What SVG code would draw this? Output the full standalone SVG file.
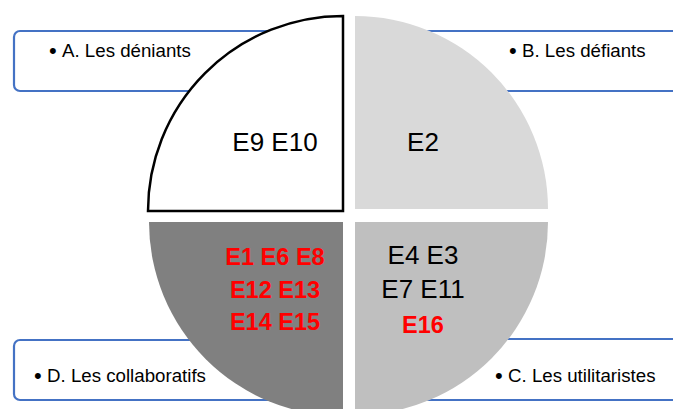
<svg xmlns="http://www.w3.org/2000/svg" width="673" height="409" viewBox="0 0 673 409">
<style>
.box{fill:#ffffff;stroke:#4472c4;stroke-width:2.2}
.lbl{font-family:"Liberation Sans",Arial,sans-serif;font-size:18.7px;fill:#000000}
.bul{font-family:"Liberation Sans",Arial,sans-serif;font-size:22px;fill:#000000}
.num{font-family:"Liberation Sans",Arial,sans-serif;font-size:26px;fill:#000000;text-anchor:middle}
.red{font-family:"Liberation Sans",Arial,sans-serif;font-size:23.5px;font-weight:bold;fill:#ff0000;text-anchor:middle}
</style>
<rect width="673" height="409" fill="#ffffff"/>
<g id="boxA"><rect class="box" x="14" y="31" width="320" height="60" rx="6"/><text class="bul" x="49" y="58">•</text><text class="lbl" x="62" y="57">A. Les déniants</text></g>
<g id="boxB"><rect class="box" x="370" y="31" width="330" height="60" rx="6"/><text class="bul" x="509" y="58">•</text><text class="lbl" x="522" y="57">B. Les défiants</text></g>
<g id="boxD"><rect class="box" x="14" y="340" width="320" height="60" rx="6"/><text class="bul" x="34" y="383">•</text><text class="lbl" x="47" y="382">D. Les collaboratifs</text></g>
<g id="boxC"><rect class="box" x="370" y="339" width="330" height="61" rx="6"/><text class="bul" x="495" y="383">•</text><text class="lbl" x="508" y="382">C. Les utilitaristes</text></g>
<g id="qA"><path d="M343,211 L148,211 A195,195 0 0 1 343,16 Z" fill="#ffffff" stroke="#000000" stroke-width="2.5"/><text class="num" x="275" y="151">E9 E10</text></g>
<g id="qB"><path d="M355,209 L355,16 A193,193 0 0 1 548,209 Z" fill="#d9d9d9"/><text class="num" x="423" y="151">E2</text></g>
<g id="qD"><path d="M343,222 L343,416 A194,194 0 0 1 149,222 Z" fill="#808080"/><text class="red" x="275" y="265">E1 E6 E8</text><text class="red" x="275" y="298">E12 E13</text><text class="red" x="275" y="330">E14 E15</text></g>
<g id="qC"><path d="M355,222 L548,222 A193,193 0 0 1 355,415 Z" fill="#bfbfbf"/><text class="num" x="423" y="264">E4 E3</text><text class="num" x="423" y="298">E7 E11</text><text class="red" x="423" y="333">E16</text></g>
<g id="connectors"></g>
</svg>
